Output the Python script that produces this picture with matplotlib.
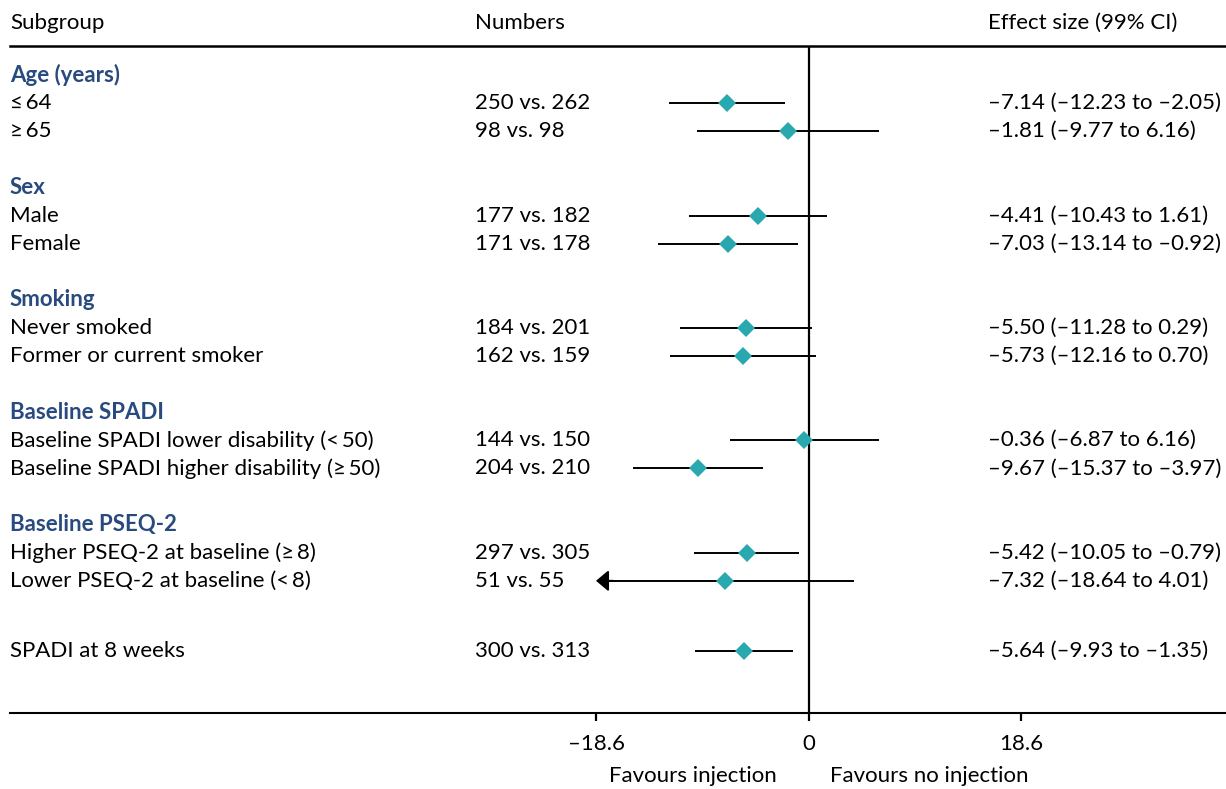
import matplotlib
matplotlib.use("Agg")
import matplotlib.pyplot as plt
from matplotlib.transforms import blended_transform_factory

plt.rcParams['font.family'] = ['Lato', 'DejaVu Sans']

# ---- data ----
group_headers = ["Age (years)", "Sex", "Smoking", "Baseline SPADI", "Baseline PSEQ-2"]
header_rows = [0, 4, 8, 12, 16]

subgroups = ["≤\u200964", "≥\u200965", "Male", "Female", "Never smoked", "Former or current smoker",
             "Baseline SPADI lower disability (<\u200950)",
             "Baseline SPADI higher disability (≥\u200950)",
             "Higher PSEQ-2 at baseline (≥\u20098)", "Lower PSEQ-2 at baseline (<\u20098)",
             "SPADI at 8 weeks"]
subgroup_rows = [1, 2, 5, 6, 9, 10, 13, 14, 17, 18, 20.5]
numbers = ["250 vs. 262", "98 vs. 98", "177 vs. 182", "171 vs. 178", "184 vs. 201",
           "162 vs. 159", "144 vs. 150", "204 vs. 210", "297 vs. 305", "51 vs. 55",
           "300 vs. 313"]
effect = [-7.14, -1.81, -4.41, -7.03, -5.50, -5.73, -0.36, -9.67, -5.42, -7.32, -5.64]
ci_low = [-12.23, -9.77, -10.43, -13.14, -11.28, -12.16, -6.87, -15.37, -10.05, -18.64, -9.93]
ci_high = [-2.05, 6.16, 1.61, -0.92, 0.29, 0.70, 6.16, -3.97, -0.79, 4.01, -1.35]

axis_limit = 18.6
xtick_values = [-18.6, 0, 18.6]
xtick_labels = ["–18.6", "0", "18.6"]

NAVY = "#284a7e"
TEAL = "#2aa8b0"
FS = 16

W, H = 1226, 789
fig = plt.figure(figsize=(W / 100, H / 100), dpi=100)
top_px, bot_px = 46, 713
left_px, right_px = 596, 1021
ax = fig.add_axes([left_px / W, 1 - bot_px / H, (right_px - left_px) / W, (bot_px - top_px) / H])
ax.set_xlim(-axis_limit, axis_limit)
row_step = 28.1
row0_px = 75
ax.set_ylim((bot_px - row0_px) / row_step, (top_px - row0_px) / row_step)
for s in ax.spines.values():
    s.set_visible(False)
ax.set_yticks([])
ax.set_xticks(xtick_values)
ax.set_xticklabels(xtick_labels, fontsize=FS)
ax.tick_params(axis='x', length=6, width=1.6, pad=9, color='black')
ax.patch.set_alpha(0)

fx = blended_transform_factory(fig.transFigure, ax.transAxes)
ftxt = blended_transform_factory(fig.transFigure, ax.transData)

# horizontal rules across the whole table
ax.plot([10 / W, 1], [1, 1], transform=fx, color='black', lw=1.8, clip_on=False)
ax.plot([10 / W, 1], [0, 0], transform=fx, color='black', lw=1.5, clip_on=False)

# zero line
ax.axvline(0, color='black', lw=1.6, zorder=1)

# column headers
hdr_y = (23 - row0_px) / row_step
ax.text(10 / W, hdr_y, "Subgroup", transform=ftxt, fontsize=FS, va='center', ha='left')
ax.text(475 / W, hdr_y, "Numbers", transform=ftxt, fontsize=FS, va='center', ha='left')
ax.text(988 / W, hdr_y, "Effect size (99% CI)", transform=ftxt, fontsize=FS, va='center', ha='left')

for name, r in zip(group_headers, header_rows):
    ax.text(10 / W, r, name, transform=ftxt, fontsize=FS, va='center', ha='left',
            color=NAVY, fontweight='bold')

for lab, r, num, e, lo, hi in zip(subgroups, subgroup_rows, numbers, effect, ci_low, ci_high):
    ax.text(10 / W, r, lab, transform=ftxt, fontsize=FS, va='center', ha='left')
    ax.text(475 / W, r, num, transform=ftxt, fontsize=FS, va='center', ha='left')
    est = f"{e:.2f} ({lo:.2f} to {hi:.2f})".replace("-", "–")
    ax.text(988 / W, r, est, transform=ftxt, fontsize=FS, va='center', ha='left')
    if lo < -axis_limit:
        ax.plot([-axis_limit + 0.8, hi], [r, r], color='black', lw=1.4, zorder=2, solid_capstyle='butt')
        ax.annotate("", xy=(-axis_limit, r), xytext=(-axis_limit + 1.5, r),
                    arrowprops=dict(arrowstyle='-|>,head_length=0.38,head_width=0.32',
                                    mutation_scale=20, color='black', lw=1.4,
                                    shrinkA=0, shrinkB=0))
    else:
        ax.plot([lo, hi], [r, r], color='black', lw=1.4, zorder=2, solid_capstyle='butt')
    ax.plot([e], [r], marker='D', color=TEAL, markersize=9, markeredgewidth=0, zorder=3)

# direction labels
lab_y = (776 - row0_px) / row_step
ax.text(-2.8, lab_y, "Favours injection", fontsize=FS, va='center', ha='right')
ax.text(1.85, lab_y, "Favours no injection", fontsize=FS, va='center', ha='left')

fig.savefig("out.png", dpi=100)
